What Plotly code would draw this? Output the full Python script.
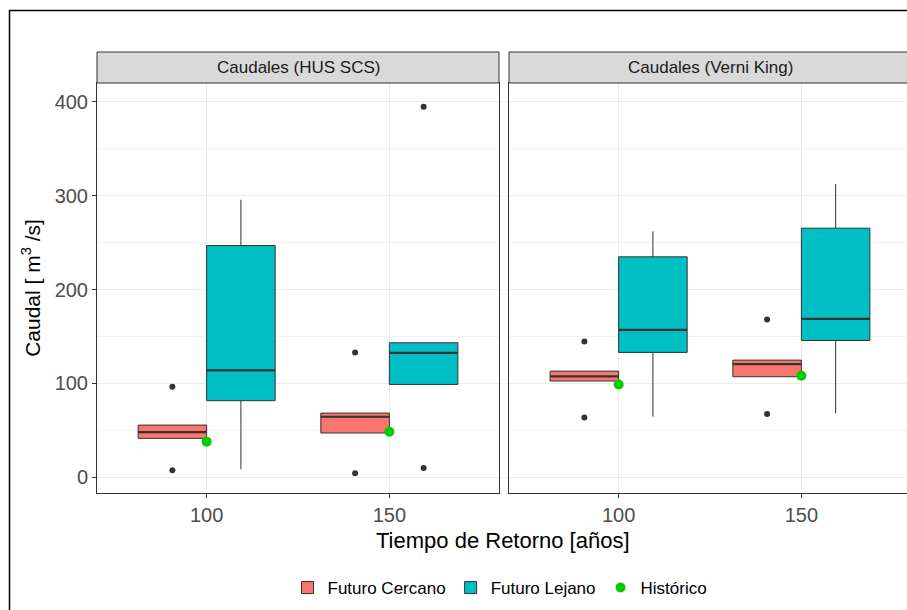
import numpy as np
import plotly.graph_objects as go
from plotly.subplots import make_subplots

# Return periods (years) used as the x categories
periodos = ["100", "150"]

# Simulated peak flows [m3/s] per method, horizon and return period
hus_cercano_100 = [7.4, 41.5, 48.2, 55.6, 96.5]
hus_cercano_150 = [4.3, 47.2, 64.5, 68.4, 133.0]
hus_lejano_100 = [8.5, 81.6, 113.8, 246.8, 295.5]
hus_lejano_150 = [9.9, 98.9, 132.6, 143.3, 394.7]

vk_cercano_100 = [63.8, 102.5, 107.4, 113.1, 144.7]
vk_cercano_150 = [67.4, 107.1, 120.6, 124.8, 168.0]
vk_lejano_100 = [64.5, 133.0, 157.1, 234.8, 262.0]
vk_lejano_150 = [68.1, 145.7, 168.8, 265.3, 312.4]

# Historical flows per method
historico_hus = [38.0, 48.6]
historico_vk = [98.9, 108.2]

paneles = ["Caudales (HUS SCS)", "Caudales (Verni King)"]
y_ticks = [0, 100, 200, 300, 400]

COL_CERCANO = "#F8766D"
COL_LEJANO = "#00BFC4"
COL_HIST = "#00CD00"
EDGE = "#333333"
GRID = "#EBEBEB"
FONT = "Liberation Sans, Arial, sans-serif"

W, H = 907, 610
ML, MR, MT, MB = 97, 0, 83, 117
PW = W - ML - MR
PH = H - MT - MB

fig = make_subplots(rows=1, cols=2, shared_yaxes=True, horizontal_spacing=10 / PW)

series = [
    (1, "Futuro Cercano", COL_CERCANO, hus_cercano_100, hus_cercano_150, True),
    (1, "Futuro Lejano", COL_LEJANO, hus_lejano_100, hus_lejano_150, True),
    (2, "Futuro Cercano", COL_CERCANO, vk_cercano_100, vk_cercano_150, False),
    (2, "Futuro Lejano", COL_LEJANO, vk_lejano_100, vk_lejano_150, False),
]

BOXW = 0.375  # width of one dodged box, in category units
medianas = []
for col, nombre, color, d100, d150, leg in series:
    fig.add_trace(
        go.Box(
            x=[periodos[0]] * len(d100) + [periodos[1]] * len(d150),
            y=list(d100) + list(d150),
            name=nombre,
            legendgroup=nombre,
            showlegend=leg,
            offsetgroup=nombre,
            fillcolor=color,
            line=dict(color=EDGE, width=1),
            whiskerwidth=0,
            boxpoints="outliers",
            quartilemethod="inclusive",
            marker=dict(color=EDGE, size=6, line=dict(width=0)),
        ),
        row=1, col=col,
    )
    # thicker median segments drawn over the boxes
    sign = -1 if nombre == "Futuro Cercano" else 1
    for i, d in enumerate([d100, d150]):
        medianas.append((col, i + sign * BOXW / 2, float(np.median(d))))

for col, hist, leg in [(1, historico_hus, True), (2, historico_vk, False)]:
    fig.add_trace(
        go.Scatter(
            x=periodos, y=hist, mode="markers", name="Histórico",
            legendgroup="Histórico", showlegend=leg,
            marker=dict(color=COL_HIST, size=10, line=dict(width=0)),
        ),
        row=1, col=col,
    )

fig.update_layout(
    width=W, height=H,
    margin=dict(l=ML, r=MR, t=MT, b=MB, pad=0),
    paper_bgcolor="white", plot_bgcolor="white",
    boxmode="group", boxgap=0.25, boxgroupgap=0,
    font=dict(family=FONT, color="#000000"),
    legend=dict(
        orientation="h", x=(500 - ML) / PW, xanchor="center",
        y=(PH - (588 - MT)) / PH, yanchor="middle",
        font=dict(size=17, color="#000000"), bgcolor="rgba(0,0,0,0)",
        traceorder="normal", itemwidth=30,
    ),
)

# panel geometry
x1_dom = [0, 402 / PW]
x2_dom = [412 / PW, 1]
unit = 402 / 2.2
fig.update_xaxes(
    type="category", categoryorder="array", categoryarray=periodos,
    showgrid=True, gridcolor=GRID, gridwidth=1,
    showline=True, linecolor=EDGE, linewidth=1, mirror=True,
    ticks="outside", ticklen=4, tickcolor=EDGE, tickwidth=1,
    tickfont=dict(size=20, color="#4D4D4D"), zeroline=False,
)
fig.update_xaxes(domain=x1_dom, range=[-0.6, 1.6], row=1, col=1)
fig.update_xaxes(domain=x2_dom, range=[-0.6, -0.6 + (x2_dom[1] - x2_dom[0]) * PW / unit], row=1, col=2)

y_rng = [-16.7, 419.9]
fig.update_yaxes(
    range=y_rng, tickvals=y_ticks, showgrid=True, gridcolor=GRID, gridwidth=1,
    minor=dict(tickvals=[50, 150, 250, 350], showgrid=True, gridcolor="#F2F2F2", gridwidth=0.6),
    zeroline=False, showline=True, linecolor=EDGE, linewidth=1,
)
fig.update_yaxes(
    mirror=True, ticks="outside", ticklen=4, tickcolor=EDGE, tickwidth=1,
    tickfont=dict(size=20, color="#4D4D4D"),
    title=dict(text="Caudal [ m<sup>3</sup> /s]", font=dict(size=21, color="#000000"), standoff=8),
    row=1, col=1,
)
fig.update_yaxes(mirror=False, ticks="", showticklabels=False, row=1, col=2)

# facet strips
strip_top = (PH + MT - 52) / PH
for k, (xr, titulo) in enumerate([("x domain", paneles[0]), ("x2 domain", paneles[1])]):
    fig.add_shape(
        type="rect", xref=xr, yref="paper", x0=0, x1=1 if k == 0 else 1.05,
        y0=1, y1=strip_top, fillcolor="#D9D9D9", line=dict(color=EDGE, width=1), layer="above",
    )
    fig.add_annotation(
        xref=xr, yref="paper", x=0.5 if k == 0 else (0.5 * 402 / 398), y=(1 + strip_top) / 2,
        text=titulo, showarrow=False, font=dict(size=17, color="#1A1A1A"),
        xanchor="center", yanchor="middle",
    )

# medians
for col, xc, med in medianas:
    xr = "x" if col == 1 else "x2"
    yr = "y" if col == 1 else "y2"
    fig.add_shape(
        type="line", xref=xr, yref=yr, x0=xc - BOXW / 2, x1=xc + BOXW / 2, y0=med, y1=med,
        line=dict(color=EDGE, width=2.2), layer="above",
    )

# x-axis title
fig.add_annotation(
    xref="paper", yref="paper", x=(503 - ML) / PW, y=(PH - (540 - MT)) / PH,
    text="Tiempo de Retorno [años]", showarrow=False,
    font=dict(size=22, color="#000000"), xanchor="center", yanchor="middle",
)

# outer frame of the figure
fig.add_shape(
    type="rect", xref="paper", yref="paper",
    x0=(9.5 - ML) / PW, x1=(W + 20 - ML) / PW,
    y0=(PH + MT - 10.5) / PH, y1=(PH + MT - H - 20) / PH,
    line=dict(color="#000000", width=1.5), fillcolor="rgba(0,0,0,0)",
)

fig.write_html("out.html")
